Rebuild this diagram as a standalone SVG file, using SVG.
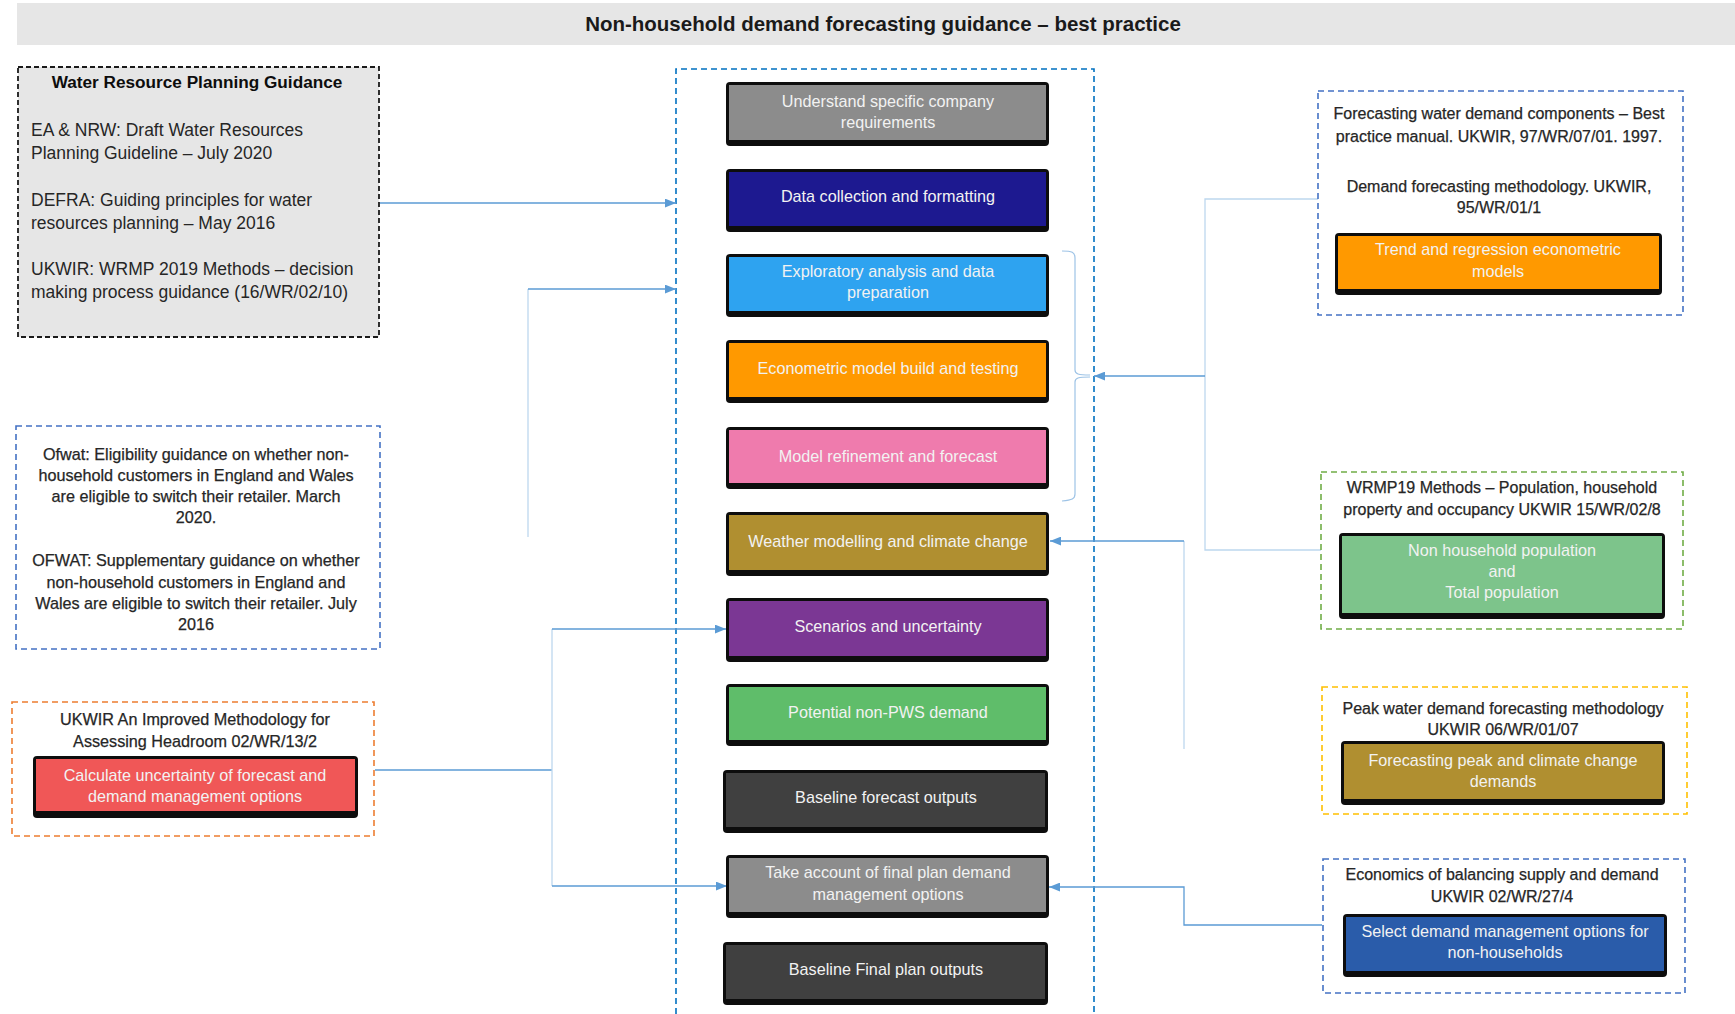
<svg xmlns="http://www.w3.org/2000/svg" width="1735" height="1014" viewBox="0 0 1735 1014">
<defs>
<style>
text{font-family:"Liberation Sans",Arial,sans-serif;}
.nt{fill:#f2f2f2;font-size:16.2px;text-anchor:middle;}
.rt{fill:#262626;font-size:16px;text-anchor:middle;stroke:#262626;stroke-width:0.25;}
.lt{fill:#262626;font-size:17.5px;}
.ot{fill:#262626;font-size:16.2px;text-anchor:middle;stroke:#262626;stroke-width:0.25;}
.sh{fill:#0d0d0d;}
.c{fill:none;stroke:#5b9bd5;stroke-width:1.3;}
.cl{fill:none;stroke:#bdd7ee;stroke-width:1.3;}
.dash{fill:none;stroke-width:1.6;stroke-dasharray:6 4;}
</style>
<marker id="ah" viewBox="0 0 10 8" refX="10" refY="4" markerWidth="11" markerHeight="9" markerUnits="userSpaceOnUse" orient="auto">
<path d="M0,0 L10,4 L0,8 z" fill="#5b9bd5"/>
</marker>
</defs>
<rect width="1735" height="1014" fill="#ffffff"/>

<g id="title">
<rect x="17" y="3" width="1718" height="42" fill="#e6e6e6"/>
<text x="883" y="31" style="font-size:20.5px;font-weight:bold;fill:#1a1a1a;text-anchor:middle">Non-household demand forecasting guidance – best practice</text>
</g>

<g id="center-frame">
<path d="M676,1014 L676,69 L1094,69 L1094,1014" class="dash" stroke="#0070c0"/>
</g>

<g id="connectors">
<line x1="380" y1="203" x2="676" y2="203" class="c" stroke="#9dc3e6" marker-end="url(#ah)"/>
<path d="M528,537 L528,289" class="cl"/>
<path d="M528,289 L676,289" class="c" marker-end="url(#ah)"/>
<path d="M375,770 L552,770" class="c"/>
<path d="M552,629 L552,886" class="cl"/>
<path d="M552,629 L726,629" class="c" marker-end="url(#ah)"/>
<path d="M552,886 L727,886" class="c" marker-end="url(#ah)"/>
<path d="M1062,251 C1072,251 1075,252 1075,258 L1075,370 C1075,374 1078,375 1090,375" fill="none" stroke="#9dc3e6" stroke-width="1.2"/>
<path d="M1090,377 C1078,377 1075,378 1075,382 L1075,494 C1075,499 1072,500 1062,501" fill="none" stroke="#9dc3e6" stroke-width="1.2"/>
<path d="M1318,199 L1205,199 L1205,550 L1321,550" class="cl"/>
<path d="M1205,376 L1094,376" class="c" marker-end="url(#ah)"/>
<path d="M1184,749 L1184,541" class="cl"/>
<path d="M1184,541 L1050,541" class="c" stroke="#9dc3e6" marker-end="url(#ah)"/>
<path d="M1322,925 L1184,925 L1184,887 L1049,887" class="c" marker-end="url(#ah)"/>
</g>

<g id="wrp-guidance">
<rect x="18" y="67" width="361" height="270" fill="#e6e6e6" stroke="#1a1a1a" stroke-width="1.8" stroke-dasharray="5 3"/>
<text x="197" y="88" style="font-size:17.2px;font-weight:bold;fill:#0d0d0d;text-anchor:middle">Water Resource Planning Guidance</text>
<text x="31" y="136" class="lt">EA &amp; NRW: Draft Water Resources</text>
<text x="31" y="159" class="lt">Planning Guideline – July 2020</text>
<text x="31" y="206" class="lt">DEFRA: Guiding principles for water</text>
<text x="31" y="229" class="lt">resources planning – May 2016</text>
<text x="31" y="275" class="lt">UKWIR: WRMP 2019 Methods – decision</text>
<text x="31" y="298" class="lt">making process guidance (16/WR/02/10)</text>
</g>

<g id="ofwat-guidance">
<rect x="16" y="426" width="364" height="223" fill="none" stroke="#4472c4" stroke-width="1.6" stroke-dasharray="6 4"/>
<text x="196" y="460" class="ot">Ofwat: Eligibility guidance on whether non-</text>
<text x="196" y="481" class="ot">household customers in England and Wales</text>
<text x="196" y="502" class="ot">are eligible to switch their retailer. March</text>
<text x="196" y="523" class="ot">2020.</text>
<text x="196" y="566" class="ot">OFWAT: Supplementary guidance on whether</text>
<text x="196" y="588" class="ot">non-household customers in England and</text>
<text x="196" y="609" class="ot">Wales are eligible to switch their retailer. July</text>
<text x="196" y="630" class="ot">2016</text>
</g>

<g id="headroom">
<rect x="12" y="702" width="362" height="134" fill="none" stroke="#ed7d31" stroke-width="1.6" stroke-dasharray="6 4"/>
<text x="195" y="725" class="ot">UKWIR An Improved Methodology for</text>
<text x="195" y="747" class="ot">Assessing Headroom 02/WR/13/2</text>
<rect x="33" y="756" width="325" height="62" rx="4" class="sh"/>
<rect x="36" y="759" width="319" height="52" fill="#f05757"/>
<text x="195" y="781" class="nt">Calculate uncertainty of forecast and</text>
<text x="195" y="802" class="nt">demand management options</text>
</g>

<g id="n1">
<rect x="726" y="82" width="323" height="64" rx="4" class="sh"/>
<rect x="729" y="85" width="317" height="55" fill="#8c8c8c"/>
<text x="888" y="107" class="nt">Understand specific company</text>
<text x="888" y="128" class="nt">requirements</text>
</g>
<g id="n2">
<rect x="726" y="169" width="323" height="63" rx="4" class="sh"/>
<rect x="729" y="172" width="317" height="54" fill="#1d1990"/>
<text x="888" y="202" class="nt">Data collection and formatting</text>
</g>
<g id="n3">
<rect x="726" y="254" width="323" height="63" rx="4" class="sh"/>
<rect x="729" y="257" width="317" height="54" fill="#2ea3f0"/>
<text x="888" y="277" class="nt">Exploratory analysis and data</text>
<text x="888" y="298" class="nt">preparation</text>
</g>
<g id="n4">
<rect x="726" y="340" width="323" height="63" rx="4" class="sh"/>
<rect x="729" y="343" width="317" height="54" fill="#ff9900"/>
<text x="888" y="374" class="nt">Econometric model build and testing</text>
</g>
<g id="n5">
<rect x="726" y="427" width="323" height="62" rx="4" class="sh"/>
<rect x="729" y="430" width="317" height="53" fill="#ef7bad"/>
<text x="888" y="462" class="nt">Model refinement and forecast</text>
</g>
<g id="n6">
<rect x="726" y="512" width="323" height="64" rx="4" class="sh"/>
<rect x="729" y="515" width="317" height="55" fill="#b08f30"/>
<text x="888" y="547" class="nt">Weather modelling and climate change</text>
</g>
<g id="n7">
<rect x="726" y="598" width="323" height="64" rx="4" class="sh"/>
<rect x="729" y="601" width="317" height="55" fill="#7b3794"/>
<text x="888" y="632" class="nt">Scenarios and uncertainty</text>
</g>
<g id="n8">
<rect x="726" y="684" width="323" height="62" rx="4" class="sh"/>
<rect x="729" y="687" width="317" height="53" fill="#5fbd6a"/>
<text x="888" y="718" class="nt">Potential non-PWS demand</text>
</g>
<g id="n9">
<rect x="723" y="770" width="325" height="63" rx="4" class="sh"/>
<rect x="726" y="773" width="319" height="54" fill="#404040"/>
<text x="886" y="803" class="nt">Baseline forecast outputs</text>
</g>
<g id="n10">
<rect x="726" y="855" width="323" height="63" rx="4" class="sh"/>
<rect x="729" y="858" width="317" height="54" fill="#8c8c8c"/>
<text x="888" y="878" class="nt">Take account of final plan demand</text>
<text x="888" y="900" class="nt">management options</text>
</g>
<g id="n11">
<rect x="723" y="942" width="325" height="63" rx="4" class="sh"/>
<rect x="726" y="945" width="319" height="54" fill="#404040"/>
<text x="886" y="975" class="nt">Baseline Final plan outputs</text>
</g>

<g id="r1">
<rect x="1318" y="91" width="365" height="224" fill="none" stroke="#4472c4" stroke-width="1.6" stroke-dasharray="6 4"/>
<text x="1499" y="119" class="rt">Forecasting water demand components – Best</text>
<text x="1499" y="142" class="rt">practice manual. UKWIR, 97/WR/07/01. 1997.</text>
<text x="1499" y="192" class="rt">Demand forecasting methodology. UKWIR,</text>
<text x="1499" y="213" class="rt">95/WR/01/1</text>
<rect x="1335" y="233" width="327" height="62" rx="4" class="sh"/>
<rect x="1338" y="236" width="321" height="53" fill="#ff9900"/>
<text x="1498" y="255" class="nt">Trend and regression econometric</text>
<text x="1498" y="277" class="nt">models</text>
</g>

<g id="r2">
<rect x="1321" y="472" width="362" height="157" fill="none" stroke="#70ad47" stroke-width="1.6" stroke-dasharray="6 4"/>
<text x="1502" y="493" class="rt">WRMP19 Methods – Population, household</text>
<text x="1502" y="515" class="rt">property and occupancy UKWIR 15/WR/02/8</text>
<rect x="1339" y="533" width="326" height="86" rx="4" class="sh"/>
<rect x="1342" y="536" width="320" height="77" fill="#7dc48b"/>
<text x="1502" y="556" class="nt">Non household population</text>
<text x="1502" y="577" class="nt">and</text>
<text x="1502" y="598" class="nt">Total population</text>
</g>

<g id="r3">
<rect x="1322" y="687" width="365" height="127" fill="none" stroke="#ffc000" stroke-width="1.6" stroke-dasharray="6 4"/>
<text x="1503" y="714" class="rt">Peak water demand forecasting methodology</text>
<text x="1503" y="735" class="rt">UKWIR 06/WR/01/07</text>
<rect x="1341" y="741" width="324" height="64" rx="4" class="sh"/>
<rect x="1344" y="744" width="318" height="55" fill="#b08f30"/>
<text x="1503" y="766" class="nt">Forecasting peak and climate change</text>
<text x="1503" y="787" class="nt">demands</text>
</g>

<g id="r4">
<rect x="1323" y="859" width="362" height="134" fill="none" stroke="#4472c4" stroke-width="1.6" stroke-dasharray="6 4"/>
<text x="1502" y="880" class="rt">Economics of balancing supply and demand</text>
<text x="1502" y="902" class="rt">UKWIR 02/WR/27/4</text>
<rect x="1343" y="914" width="324" height="63" rx="4" class="sh"/>
<rect x="1346" y="917" width="318" height="54" fill="#2a5caa"/>
<text x="1505" y="937" class="nt">Select demand management options for</text>
<text x="1505" y="958" class="nt">non-households</text>
</g>
</svg>
